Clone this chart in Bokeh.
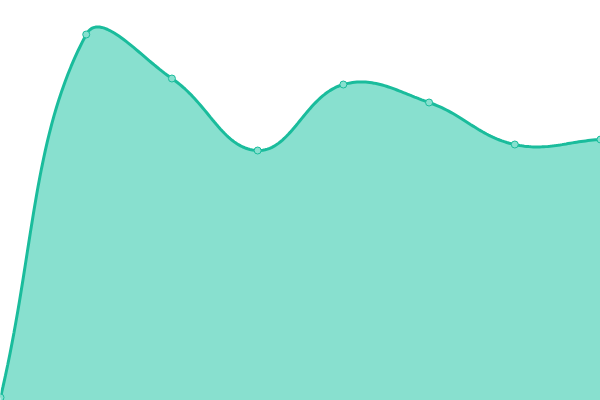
import numpy as np
from bokeh.plotting import figure
from bokeh.models import ColumnDataSource
from bokeh.embed import file_html
from bokeh.resources import INLINE

# data (index positions and values)
labels = [0, 1, 2, 3, 4, 5, 6, 7]
values = [3, 366, 322, 250, 316, 298, 256, 261]

W, H = 600, 400
Y_MAX = 400
TENSION = 0.4


def spline_path(xs, ys, tension=TENSION, samples=40):
    # Chart.js-style bezier smoothing computed in pixel space
    sx = W / (xs[-1] - xs[0])
    sy = H / Y_MAX
    px = [(x - xs[0]) * sx for x in xs]
    py = [y * sy for y in ys]
    n = len(px)
    cps = []
    for i in range(n):
        prev_i = max(i - 1, 0)
        next_i = min(i + 1, n - 1)
        d01 = np.hypot(px[i] - px[prev_i], py[i] - py[prev_i])
        d12 = np.hypot(px[next_i] - px[i], py[next_i] - py[i])
        tot = d01 + d12
        s01 = d01 / tot if tot else 0
        s12 = d12 / tot if tot else 0
        fa = tension * s01
        fb = tension * s12
        dx = px[next_i] - px[prev_i]
        dy = py[next_i] - py[prev_i]
        cps.append(((px[i] - fa * dx, py[i] - fa * dy), (px[i] + fb * dx, py[i] + fb * dy)))
    out_x, out_y = [], []
    t = np.linspace(0, 1, samples)
    for i in range(n - 1):
        p0 = np.array([px[i], py[i]])
        p1 = np.array(cps[i][1])
        p2 = np.array(cps[i + 1][0])
        p3 = np.array([px[i + 1], py[i + 1]])
        tt = t if i == 0 else t[1:]
        pts = ((1 - tt) ** 3)[:, None] * p0 + (3 * (1 - tt) ** 2 * tt)[:, None] * p1 \
            + (3 * (1 - tt) * tt ** 2)[:, None] * p2 + (tt ** 3)[:, None] * p3
        out_x.extend(pts[:, 0] / sx + xs[0])
        out_y.extend(pts[:, 1] / sy)
    return out_x, out_y


cx, cy = spline_path(labels, values)

p = figure(width=W, height=H, output_backend="svg", toolbar_location=None,
           x_range=(labels[0], labels[-1]), y_range=(0, Y_MAX),
           min_border=0, min_border_left=0, min_border_right=0,
           min_border_top=0, min_border_bottom=0)
p.axis.visible = False
p.grid.visible = False
p.outline_line_color = None
p.background_fill_color = "white"
p.border_fill_color = "white"

px_ = [labels[0]] + cx + [labels[-1]]
py_ = [0] + cy + [0]
p.patch(px_, py_, fill_color="#88e0cf", fill_alpha=1.0, line_color=None)
p.line(cx, cy, line_color="#1abc9c", line_width=3)

src = ColumnDataSource(dict(x=labels, y=values))
p.scatter("x", "y", source=src, size=7, fill_color="#88e0cf",
          line_color="#1abc9c", line_width=1)

open("out.html", "w").write(file_html(p, INLINE))
